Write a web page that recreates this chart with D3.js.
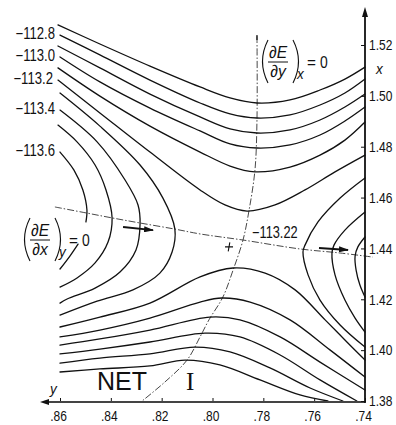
<!DOCTYPE html>
<html>
<head>
<meta charset="utf-8">
<script src="https://cdn.jsdelivr.net/npm/d3@7"></script>
<style>
  html, body { margin: 0; padding: 0; background: #fff; }
  svg { display: block; }
</style>
</head>
<body>
<svg id="chart" width="396" height="425"></svg>
<script>
// Energy surface E(x, y) of NET I near its saddle point.
// Every point is [y, x]; y runs along the bottom axis (decreasing to the right),
// x runs up the right-hand axis.

const yTicks = [0.86, 0.84, 0.82, 0.80, 0.78, 0.76, 0.74];
const yTickLabels = [".86", ".84", ".82", ".80", ".78", ".76", ".74"];
const xTicks = [1.38, 1.40, 1.42, 1.44, 1.46, 1.48, 1.50, 1.52];
const xTickLabels = ["1.38", "1.40", "1.42", "1.44", "1.46", "1.48", "1.50", "1.52"];

// contour levels that carry a printed value
const labelledLevels = [-112.8, -113.0, -113.2, -113.4, -113.6];

// upper branches (above the saddle energy)
const top1127 = [[0.8608,1.5279],[0.8443,1.5204],[0.8246,1.5117],[0.8049,1.5035],[0.7931,1.4992],[0.7825,1.4972],[0.7695,1.4984],[0.7577,1.5023],[0.7479,1.5066],[0.7400,1.5113]];
const top1128 = [[0.8600,1.5239],[0.8443,1.5161],[0.8246,1.5062],[0.8049,1.4972],[0.7931,1.4929],[0.7825,1.4913],[0.7695,1.4925],[0.7577,1.4964],[0.7479,1.5011],[0.7400,1.5066]];
const top1129 = [[0.8608,1.5196],[0.8443,1.5110],[0.8246,1.5007],[0.8049,1.4917],[0.7931,1.4870],[0.7825,1.4854],[0.7695,1.4866],[0.7577,1.4905],[0.7479,1.4956],[0.7400,1.5007]];
const top1130 = [[0.8600,1.5153],[0.8443,1.5055],[0.8246,1.4952],[0.8049,1.4862],[0.7931,1.4811],[0.7825,1.4795],[0.7695,1.4807],[0.7577,1.4846],[0.7479,1.4901],[0.7400,1.4956]];
const top1131 = [[0.8608,1.5110],[0.8443,1.4999],[0.8246,1.4881],[0.8049,1.4779],[0.7931,1.4724],[0.7833,1.4701],[0.7695,1.4720],[0.7577,1.4767],[0.7479,1.4826],[0.7400,1.4897]];
const top1132 = [[0.8608,1.5062],[0.8443,1.4933],[0.8246,1.4779],[0.8049,1.4630],[0.7951,1.4571],[0.7864,1.4547],[0.7754,1.4571],[0.7636,1.4630],[0.7518,1.4701],[0.7400,1.4767]];

// lower branches
const bot1132 = [[0.8600,1.4091],[0.8443,1.4130],[0.8246,1.4185],[0.8049,1.4288],[0.7919,1.4323],[0.7793,1.4303],[0.7675,1.4237],[0.7557,1.4119],[0.7479,1.4040],[0.7400,1.3961]];
const bot1131 = [[0.8600,1.4052],[0.8443,1.4079],[0.8246,1.4126],[0.8049,1.4189],[0.7963,1.4205],[0.7852,1.4189],[0.7695,1.4119],[0.7538,1.4001],[0.7400,1.3894]];
const bot1130 = [[0.8600,1.4020],[0.8443,1.4044],[0.8246,1.4079],[0.8010,1.4130],[0.7892,1.4119],[0.7734,1.4052],[0.7577,1.3953],[0.7400,1.3843]];
const bot1129 = [[0.8600,1.3985],[0.8443,1.4004],[0.8246,1.4032],[0.8030,1.4067],[0.7892,1.4052],[0.7734,1.3981],[0.7577,1.3883],[0.7432,1.3800]];
const bot1128 = [[0.8600,1.3949],[0.8443,1.3969],[0.8246,1.3985],[0.8069,1.4012],[0.7931,1.3993],[0.7774,1.3930],[0.7616,1.3851],[0.7487,1.3800]];
const bot1127 = [[0.8600,1.3914],[0.8443,1.3926],[0.8246,1.3938],[0.8108,1.3961],[0.7971,1.3942],[0.7813,1.3883],[0.7656,1.3824],[0.7546,1.3800]];

// left-hand valley branches (below the saddle energy)
const left1133 = [[0.8600,1.5011],[0.8443,1.4881],[0.8285,1.4728],[0.8195,1.4598],[0.8148,1.4476],[0.8159,1.4386],[0.8207,1.4303],[0.8313,1.4237],[0.8454,1.4193],[0.8600,1.4138]];
const left1134 = [[0.8600,1.4944],[0.8454,1.4819],[0.8344,1.4669],[0.8293,1.4571],[0.8285,1.4496],[0.8301,1.4394],[0.8364,1.4307],[0.8462,1.4244],[0.8572,1.4201],[0.8600,1.4185]];
const left1135 = [[0.8608,1.4885],[0.8533,1.4819],[0.8462,1.4728],[0.8419,1.4630],[0.8395,1.4520],[0.8411,1.4425],[0.8462,1.4343],[0.8533,1.4284],[0.8600,1.4248]];
const left1136a = [[0.8600,1.4779],[0.8545,1.4708],[0.8510,1.4630],[0.8494,1.4551],[0.8498,1.4504]];
const left1136b = [[0.8529,1.4417],[0.8561,1.4370],[0.8600,1.4319]];

// right-hand valley branches
const right1133 = [[0.7400,1.4677],[0.7498,1.4598],[0.7585,1.4504],[0.7636,1.4413],[0.7644,1.4386],[0.7624,1.4296],[0.7577,1.4197],[0.7498,1.4099],[0.7400,1.4012]];
const right1134 = [[0.7400,1.4543],[0.7479,1.4472],[0.7522,1.4413],[0.7530,1.4382],[0.7518,1.4296],[0.7479,1.4197],[0.7439,1.4126],[0.7400,1.4071]];
const right1135 = [[0.7400,1.4445],[0.7428,1.4406],[0.7439,1.4370],[0.7435,1.4315],[0.7420,1.4256],[0.7400,1.4209]];

// loci where one partial derivative vanishes
const dEdyZero = [[0.7825,1.5235],[0.7825,1.4905],[0.7833,1.4708],[0.7856,1.4551],[0.7880,1.4433],[0.7919,1.4315],[0.7959,1.4209],[0.8014,1.4119],[0.8049,1.4052],[0.8100,1.3961],[0.8187,1.3875],[0.8277,1.3800]];
const dEdxZero = [[0.8620,1.4563],[0.8494,1.4539],[0.8395,1.4520],[0.8285,1.4500],[0.8148,1.4476],[0.8049,1.4457],[0.7880,1.4433],[0.7656,1.4398],[0.7498,1.4382],[0.7369,1.4366]];

// saddle point and its energy
const saddlePoint = [0.7935, 1.4406];
const saddleValue = -113.22;

// descent arrows along the valley
const arrows = [
  [[0.8352,1.4484],[0.8234,1.4472]],
  [[0.7581,1.4402],[0.7467,1.4394]]
];

const contours = [
  {level: -112.7, pts: top1127}, {level: -112.8, pts: top1128}, {level: -112.9, pts: top1129},
  {level: -113.0, pts: top1130}, {level: -113.1, pts: top1131}, {level: -113.2, pts: top1132},
  {level: -113.3, pts: left1133}, {level: -113.4, pts: left1134}, {level: -113.5, pts: left1135},
  {level: -113.6, pts: left1136a}, {level: -113.6, pts: left1136b},
  {level: -113.3, pts: right1133}, {level: -113.4, pts: right1134}, {level: -113.5, pts: right1135},
  {level: -113.2, pts: bot1132}, {level: -113.1, pts: bot1131}, {level: -113.0, pts: bot1130},
  {level: -112.9, pts: bot1129}, {level: -112.8, pts: bot1128}, {level: -112.7, pts: bot1127}
];

// ---------------------------------------------------------------------------
const ink = "#111";
const FONT = "'Liberation Sans', Arial, Helvetica, sans-serif";
const svg = d3.select("#chart");

const sy = d3.scaleLinear().domain([0.86, 0.74]).range([60, 365]);
const sx = d3.scaleLinear().domain([1.38, 1.52]).range([401, 45]);

const curve = d3.line()
  .x(d => sy(d[0]))
  .y(d => sx(d[1]))
  .curve(d3.curveCatmullRom.alpha(0.5));

// narrow lettering: draw at natural size, squeeze horizontally
function txt(x, y, str, size, opts = {}) {
  const t = svg.append("text")
    .attr("transform", `translate(${x},${y}) scale(${opts.sx ?? 0.8},1)`)
    .attr("font-family", opts.family ?? FONT)
    .attr("font-size", size)
    .attr("font-style", opts.italic ? "italic" : "normal")
    .attr("text-anchor", opts.anchor ?? "start")
    .attr("fill", ink)
    .text(str);
  return t;
}
const fmt = v => "\u2212" + Math.abs(v).toFixed(1);

// ---- derivative loci (dash-dot) ----
svg.append("g").selectAll("path").data([dEdyZero, dEdxZero]).join("path")
  .attr("d", d => curve(d))
  .attr("fill", "none")
  .attr("stroke", "#333")
  .attr("stroke-width", 0.9)
  .attr("stroke-dasharray", "7,2,1.5,2");

// small end mark at the top of the dE/dy locus
svg.append("line")
  .attr("x1", sy(dEdyZero[0][0])).attr("x2", sy(dEdyZero[0][0]))
  .attr("y1", sx(dEdyZero[0][1]) - 1).attr("y2", sx(dEdyZero[0][1]) + 4)
  .attr("stroke", ink).attr("stroke-width", 1.2);

// ---- contour lines ----
svg.append("g").selectAll("path").data(contours).join("path")
  .attr("d", d => curve(d.pts))
  .attr("fill", "none")
  .attr("stroke", ink)
  .attr("stroke-width", 1.3)
  .attr("stroke-linecap", "round");

// ---- level values at the upper-left ends ----
labelledLevels.forEach(v => {
  const c = contours.find(k => k.level === v && k.pts[0][0] >= 0.859);
  const [y0, x0] = c.pts[0];
  txt(sy(y0) - 5, sx(x0) + 4, fmt(v), 16, {anchor: "end", sx: 0.82});
});

// ---- saddle marker and value ----
{
  const px = sy(saddlePoint[0]), py = sx(saddlePoint[1]);
  svg.append("path")
    .attr("d", `M${px - 4},${py} H${px + 4} M${px + 0.8},${py - 4.5} L${px - 0.8},${py + 4.5}`)
    .attr("stroke", ink).attr("stroke-width", 1.1).attr("fill", "none");
  txt(px + 23, py - 9, "\u2212" + Math.abs(saddleValue).toFixed(2), 16, {sx: 0.8});
}

// ---- arrows ----
svg.append("defs").append("marker")
  .attr("id", "head").attr("viewBox", "0 0 10 6")
  .attr("refX", 9).attr("refY", 3)
  .attr("markerWidth", 10).attr("markerHeight", 6)
  .attr("markerUnits", "userSpaceOnUse")
  .attr("orient", "auto")
  .append("path").attr("d", "M0,0 L10,3 L0,6 Z").attr("fill", ink);

svg.append("g").selectAll("line").data(arrows).join("line")
  .attr("x1", d => sy(d[0][0])).attr("y1", d => sx(d[0][1]))
  .attr("x2", d => sy(d[1][0])).attr("y2", d => sx(d[1][1]))
  .attr("stroke", ink).attr("stroke-width", 2)
  .attr("marker-end", "url(#head)");

// ---- bottom axis (y) ----
const axB = svg.append("g").attr("transform", `translate(0,${sx(1.38) + 1})`)
  .call(d3.axisBottom(sy).tickValues(yTicks)
    .tickFormat((d, i) => yTickLabels[i])
    .tickSizeInner(-4).tickSizeOuter(0).tickPadding(8));
axB.select(".domain").remove();
axB.selectAll(".tick line").attr("stroke", ink).attr("stroke-width", 1);
axB.selectAll(".tick text")
  .attr("font-family", FONT).attr("font-size", 15).attr("fill", ink)
  .attr("transform", "translate(-2,0) scale(0.8,1)");

const yBase = sx(1.38) + 1;
svg.append("line").attr("x1", 44).attr("x2", sy(0.74))
  .attr("y1", yBase).attr("y2", yBase)
  .attr("stroke", "#444").attr("stroke-width", 2);
svg.append("path")
  .attr("d", `M40,${yBase} L49,${yBase - 3} L49,${yBase + 3} Z`).attr("fill", ink);
txt(50, 394, "y", 15, {italic: true, sx: 0.9});

// ---- right axis (x) ----
const axR = svg.append("g").attr("transform", `translate(${sy(0.74)},0)`)
  .call(d3.axisRight(sx).tickValues(xTicks)
    .tickFormat((d, i) => xTickLabels[i])
    .tickSizeInner(-4).tickSizeOuter(0).tickPadding(5));
axR.select(".domain").remove();
axR.selectAll(".tick line").attr("stroke", ink).attr("stroke-width", 1);
axR.selectAll(".tick text")
  .attr("font-family", FONT).attr("font-size", 15).attr("fill", ink)
  .attr("transform", "scale(0.8,1)");

const xEdge = sy(0.74);
svg.append("line").attr("x1", xEdge).attr("x2", xEdge)
  .attr("y1", 14).attr("y2", yBase + 1)
  .attr("stroke", ink).attr("stroke-width", 1.8);
svg.append("path")
  .attr("d", `M${xEdge},7 L${xEdge - 3},17 L${xEdge + 3},17 Z`).attr("fill", ink);
txt(376, 74, "x", 15, {italic: true, sx: 0.9});

// ---- partial-derivative annotations ----
function paren(x, y0, y1, dir) {
  const mid = (y0 + y1) / 2;
  svg.append("path")
    .attr("d", `M${x},${y0} Q${x - dir * 11},${mid} ${x},${y1}`)
    .attr("fill", "none").attr("stroke", ink).attr("stroke-width", 1.1);
}
function partial(x0, yTop, num, den, sub) {
  // x0: left parenthesis, yTop: top of the brackets
  const yBot = yTop + 43, cx = x0 + 15, bar = yTop + 22;
  paren(x0 + 5, yTop, yBot, 1);
  txt(cx, bar - 4, num, 17, {anchor: "middle", italic: true, sx: 0.92});
  svg.append("line").attr("x1", cx - 10).attr("x2", cx + 10)
    .attr("y1", bar).attr("y2", bar).attr("stroke", ink).attr("stroke-width", 1);
  txt(cx, bar + 15, den, 17, {anchor: "middle", italic: true, sx: 0.92});
  paren(x0 + 30, yTop, yBot, -1);
  txt(x0 + 34, yTop + 39, sub, 15, {italic: true, sx: 0.9});
  txt(x0 + 44, bar + 5.5, "=", 17, {sx: 0.9});
  txt(x0 + 57, bar + 6, "0", 17, {sx: 0.82});
}
partial(263, 40, "\u2202E", "\u2202y", "x");
partial(25, 218, "\u2202E", "\u2202x", "y");

// ---- title ----
txt(97, 390, "NET", 25, {sx: 1});
txt(186, 390, "I", 25, {sx: 1, family: "'Liberation Serif', 'Times New Roman', serif"});
</script>
</body>
</html>
